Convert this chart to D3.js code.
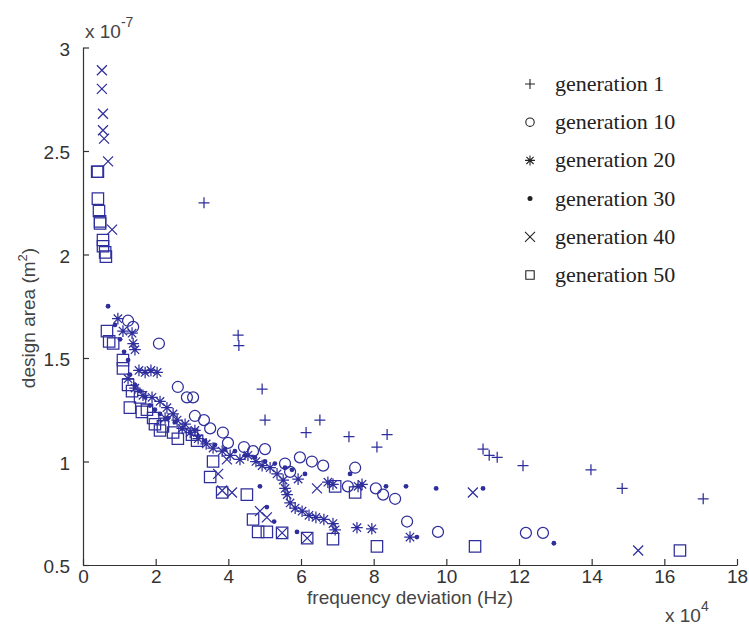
<!DOCTYPE html>
<html>
<head>
<meta charset="utf-8">
<script src="https://d3js.org/d3.v7.min.js"></script>
<style>
  body { margin: 0; background: #fff; }
  .tick text { font-family: "Liberation Sans", Arial, sans-serif; font-size: 19px; fill: #333; }
  .axis-title { font-family: "Liberation Sans", Arial, sans-serif; font-size: 19px; fill: #444; }
  .legend text { font-family: "Liberation Serif", "Times New Roman", serif; font-size: 22px; fill: #222; }
</style>
</head>
<body>
<svg id="chart" width="749" height="629"></svg>
<script>
// values: x in 1e4 Hz, y in 1e-7 m^2
const gen1 = [[3.33,2.25],[4.27,1.61],[4.29,1.56],[4.93,1.35],[5.01,1.20],[6.14,1.14],[6.52,1.20],
  [7.32,1.12],[8.09,1.07],[8.37,1.13],[11.01,1.06],[11.18,1.03],[11.40,1.02],[12.11,0.98],
  [13.98,0.96],[14.84,0.87],[17.07,0.82]];

const gen10 = [[1.24,1.68],[1.38,1.65],[2.09,1.57],[2.61,1.36],[2.86,1.31],[3.03,1.31],[3.08,1.22],
  [3.33,1.20],[3.50,1.16],[3.85,1.14],[3.99,1.09],[4.43,1.07],[4.68,1.05],[5.01,1.06],[5.56,0.99],
  [5.70,0.95],[5.97,1.02],[6.30,1.00],[6.61,0.98],[7.49,0.97],[7.29,0.88],[8.06,0.87],[8.26,0.84],
  [8.59,0.82],[8.92,0.71],[9.77,0.66],[12.19,0.655],[12.66,0.655]];

const gen20 = [[0.96,1.69],[1.10,1.63],[1.35,1.62],[1.38,1.57],[1.43,1.54],[1.54,1.44],[1.71,1.43],
  [1.87,1.44],[2.04,1.43],[1.24,1.40],[1.43,1.355],[1.65,1.32],[1.90,1.31],[2.12,1.29],[2.26,1.21],
  [2.31,1.26],[2.48,1.23],[2.59,1.20],[2.81,1.18],[2.73,1.16],[3.08,1.15],[2.95,1.14],[3.17,1.11],
  [3.39,1.085],[3.58,1.065],[3.83,1.05],[4.05,1.03],[4.32,1.01],[4.54,1.03],[4.76,1.00],[4.93,0.98],
  [5.15,0.97],[5.34,0.94],[5.51,0.91],[5.56,0.87],[5.62,0.84],[5.70,0.80],[5.84,0.775],[6.03,0.76],
  [6.22,0.74],[6.41,0.73],[6.63,0.72],[6.88,0.70],[6.94,0.67],[5.92,0.915],[6.74,0.90],[6.88,0.89],
  [7.57,0.88],[7.68,0.89],[7.54,0.68],[7.95,0.675],[9.00,0.635]];

const gen30 = [[0.69,1.75],[0.88,1.66],[1.02,1.59],[1.13,1.53],[1.24,1.49],[1.29,1.42],[1.43,1.37],
  [1.57,1.34],[1.71,1.31],[1.84,1.27],[1.98,1.25],[2.12,1.23],[2.34,1.21],[2.53,1.19],[2.73,1.16],
  [2.95,1.14],[3.17,1.12],[3.36,1.10],[3.63,1.08],[3.91,1.06],[4.18,1.05],[4.46,1.03],[4.73,1.02],
  [5.01,1.00],[5.28,0.99],[5.56,0.97],[5.75,0.96],[4.87,0.88],[5.06,0.78],[5.26,0.71],[5.89,0.66],
  [6.11,0.94],[7.35,0.94],[8.34,0.88],[8.89,0.88],[9.72,0.87],[11.01,0.87],[9.19,0.635],[12.96,0.605]];

const gen40 = [[0.52,2.89],[0.52,2.80],[0.55,2.68],[0.55,2.60],[0.58,2.56],[0.69,2.45],[0.80,2.12],
  [3.72,0.94],[4.10,0.85],[3.96,1.01],[4.87,0.76],[5.06,0.73],[6.44,0.87],[10.73,0.85],[15.28,0.57],
  [5.48,0.655],[6.17,0.63],[3.83,0.86]];

const gen50 = [[0.39,2.40],[0.41,2.40],[0.41,2.27],[0.44,2.21],[0.47,2.16],[0.47,2.15],[0.55,2.07],
  [0.55,2.04],[0.61,2.01],[0.63,1.99],[0.66,1.63],[0.72,1.58],[0.83,1.57],[1.10,1.49],[1.10,1.45],
  [1.24,1.37],[1.35,1.34],[1.57,1.31],[1.29,1.26],[1.62,1.24],[1.76,1.25],[1.93,1.21],[1.98,1.18],
  [2.12,1.15],[2.20,1.17],[2.48,1.14],[2.61,1.11],[3.00,1.13],[3.14,1.10],[3.58,1.00],[3.50,0.925],
  [3.83,0.85],[4.51,0.84],[4.68,0.72],[4.82,0.66],[5.06,0.66],[5.48,0.655],[6.17,0.63],[6.94,0.88],
  [7.49,0.85],[6.88,0.625],[8.09,0.59],[10.79,0.59],[16.43,0.57]];

const legendLabels = ['generation 1', 'generation 10', 'generation 20', 'generation 30', 'generation 40', 'generation 50'];
const markerTypes = ['plus', 'circle', 'star', 'dot', 'cross', 'square'];
const xTicks = [0, 2, 4, 6, 8, 10, 12, 14, 16, 18];
const yTicks = [0.5, 1, 1.5, 2, 2.5, 3];

const svg = d3.select('#chart');
const margin = { left: 83, top: 47.5, right: 12, bottom: 64 };
const W = 749, H = 629;

const x = d3.scaleLinear().domain([0, 18]).range([margin.left, W - margin.right]);
const y = d3.scaleLinear().domain([0.5, 3]).range([H - margin.bottom, margin.top]);

// stroke-only marker shapes, s = half size
function markerPath(type, s) {
  switch (type) {
    case 'plus': return `M${-s},0H${s}M0,${-s}V${s}`;
    case 'cross': return `M${-s},${-s}L${s},${s}M${-s},${s}L${s},${-s}`;
    case 'star': {
      const d = s * 0.72;
      return `M${-s},0H${s}M0,${-s}V${s}M${-d},${-d}L${d},${d}M${-d},${d}L${d},${-d}`;
    }
    case 'square': return `M${-s},${-s}H${s}V${s}H${-s}Z`;
    case 'circle': return d3.arc()({ innerRadius: 0, outerRadius: s, startAngle: 0, endAngle: 2 * Math.PI });
  }
  return '';
}

const blue = '#2e2e9c';
const series = [gen1, gen10, gen20, gen30, gen40, gen50];
const sizes = { plus: 5.5, circle: 5.5, star: 5.8, cross: 5, square: 5.7, dot: 2.4 };

// axes
const xAxis = d3.axisBottom(x).tickValues(xTicks).tickSizeInner(-6).tickSizeOuter(0).tickPadding(5);
const yAxis = d3.axisLeft(y).tickValues(yTicks).tickSizeInner(-6).tickSizeOuter(0).tickPadding(13)
  .tickFormat(d => String(d));

const gx = svg.append('g').attr('transform', `translate(0,${y(0.5)})`).call(xAxis);
const gy = svg.append('g').attr('transform', `translate(${x(0)},0)`).call(yAxis);
[gx, gy].forEach(g => {
  g.select('.domain').attr('stroke', '#333').attr('stroke-width', 1.2);
  g.selectAll('.tick line').attr('stroke', '#333').attr('stroke-width', 1.2);
});
gy.selectAll('.tick text').attr('dy', '0.4em');

// points
const plot = svg.append('g');
series.forEach((data, i) => {
  const type = markerTypes[i];
  const g = plot.append('g');
  if (type === 'dot') {
    g.selectAll('circle').data(data).join('circle')
      .attr('cx', d => x(d[0])).attr('cy', d => y(d[1]))
      .attr('r', sizes.dot).attr('fill', blue);
  } else {
    g.selectAll('path').data(data).join('path')
      .attr('transform', d => `translate(${x(d[0])},${y(d[1])})`)
      .attr('d', markerPath(type, sizes[type]))
      .attr('fill', 'none').attr('stroke', blue).attr('stroke-width', 1.25);
  }
});

// axis titles and exponents
svg.append('text').attr('class', 'axis-title')
  .attr('x', 410).attr('y', 604).attr('text-anchor', 'middle')
  .text('frequency deviation (Hz)');

const yt = svg.append('text').attr('class', 'axis-title')
  .attr('transform', 'translate(35,318) rotate(-90)').attr('text-anchor', 'middle');
yt.append('tspan').text('design area (m');
yt.append('tspan').attr('dy', -8).attr('font-size', 13).text('2');
yt.append('tspan').attr('dy', 8).text(')');

const ex = svg.append('text').attr('class', 'axis-title').attr('x', 85).attr('y', 38).attr('fill', '#333');
ex.append('tspan').text('x 10');
ex.append('tspan').attr('dy', -11).attr('font-size', 14).text('-7');

const ex2 = svg.append('text').attr('class', 'axis-title').attr('x', 665).attr('y', 622).attr('fill', '#333');
ex2.append('tspan').text('x 10');
ex2.append('tspan').attr('dy', -11).attr('font-size', 14).text('4');

// legend
const legend = svg.append('g').attr('class', 'legend');
legendLabels.forEach((lab, i) => {
  const ly = 84 + i * 38.2;
  const type = markerTypes[i];
  if (type === 'dot') {
    legend.append('circle').attr('cx', 530).attr('cy', ly).attr('r', 2.5).attr('fill', '#222');
  } else {
    const s = type === 'circle' || type === 'square' ? 4.2 : 5;
    legend.append('path').attr('transform', `translate(530,${ly})`)
      .attr('d', markerPath(type, s)).attr('fill', 'none').attr('stroke', '#222').attr('stroke-width', 1.1);
  }
  legend.append('text').attr('x', 555).attr('y', ly + 7).text(lab);
});
</script>
</body>
</html>
